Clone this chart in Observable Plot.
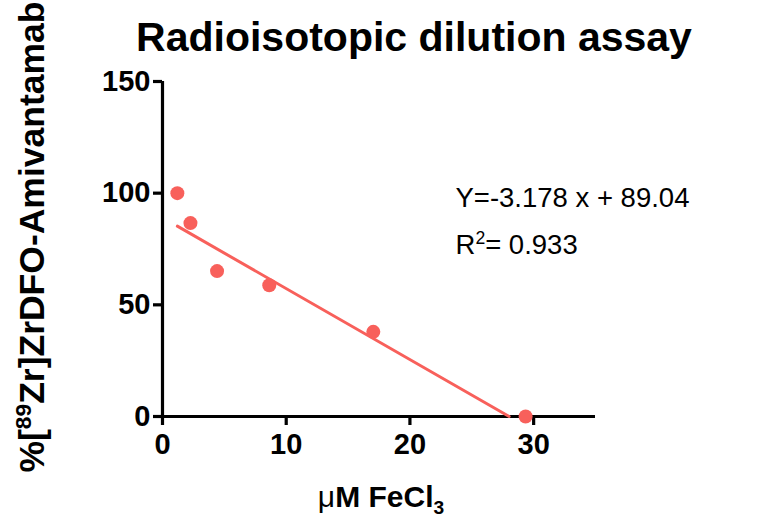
<!DOCTYPE html>
<html>
<head>
<meta charset="utf-8">
<script src="https://cdn.jsdelivr.net/npm/d3@7"></script>
<script src="https://cdn.jsdelivr.net/npm/@observablehq/plot@0.6"></script>
<style>
  html, body { margin: 0; padding: 0; background: #fff; }
  #chart svg { display: block; }
</style>
</head>
<body>
<div id="chart"></div>
<script>
// ---- data ----
const concentration = [1.2, 2.26, 4.41, 8.63, 17.04, 29.35];   // µM FeCl3
const percentBound  = [100, 86.6, 65.1, 58.8, 37.9, 0];          // %[89Zr]ZrDFO-Amivantamab
const fitSlope = -3.178;
const fitIntercept = 89.04;
const fitRangeX = [1.2, 28.02];
const xTicks = [0, 10, 20, 30];
const yTicks = [0, 50, 100, 150];
const titleText = "Radioisotopic dilution assay";
const xLabel = "μM FeCl_{3}";
const yLabel = "%[^{89}Zr]ZrDFO-Amivantamab";
const eqLines = ["Y=-3.178 x + 89.04", "R^{2}= 0.933"];

const points = concentration.map((c, i) => ({x: c, y: percentBound[i]}));
const fit = fitRangeX.map(x => ({x, y: fitSlope * x + fitIntercept}));

const red = "#f8605b";
const font = "'Liberation Sans', Arial, sans-serif";

const chart = Plot.plot({
  width: 773,
  height: 530,
  marginLeft: 162,
  marginRight: 178,
  marginTop: 81,
  marginBottom: 114,
  style: {fontFamily: font, background: "#fff", color: "#000"},
  x: {domain: [0, 35]},
  y: {domain: [0, 150]},
  marks: [
    // axis lines
    Plot.ruleY([0], {x1: 0, x2: 35, stroke: "#000", strokeWidth: 3.2}),
    Plot.ruleX([0], {y1: 0, y2: 150, stroke: "#000", strokeWidth: 3.2}),
    // ticks
    Plot.axisX({ticks: xTicks, tickSize: 9, strokeWidth: 3.2, stroke: "#000", tickFormat: () => "", label: null}),
    Plot.axisY({ticks: yTicks, tickSize: 9, strokeWidth: 3.2, stroke: "#000", tickFormat: () => "", label: null}),
    // tick labels
    Plot.text(xTicks, {x: d => d, y: 0, text: d => String(d), dy: 28, fontSize: 29, fontWeight: "bold", fill: "#000", lineAnchor: "middle"}),
    Plot.text(yTicks, {x: 0, y: d => d, text: d => String(d), dx: -12, textAnchor: "end", fontSize: 29, fontWeight: "bold", fill: "#000", lineAnchor: "middle"}),
    // fit line
    Plot.line(fit, {x: "x", y: "y", stroke: red, strokeWidth: 3}),
    // points
    Plot.dot(points, {x: "x", y: "y", r: 7, fill: red, stroke: "none"}),
    // equation
    Plot.text([eqLines[0]], {frameAnchor: "top-left", dx: 293, dy: 125, text: d => d, textAnchor: "start", lineAnchor: "bottom", fontSize: 27.5, fill: "#000"}),
    Plot.text([eqLines[1]], {frameAnchor: "top-left", dx: 293, dy: 172, text: d => d, textAnchor: "start", lineAnchor: "bottom", fontSize: 27.5, fill: "#000"}),
    // title
    Plot.text([titleText], {frameAnchor: "top", dx: 35, dy: -44, text: d => d, fontSize: 41, fontWeight: "bold", fill: "#000", lineAnchor: "middle"}),
    // x label
    Plot.text([xLabel], {frameAnchor: "bottom", dx: 2, dy: 81, text: d => d, fontSize: 30, fontWeight: "bold", fill: "#000", lineAnchor: "middle"}),
    // y label
    Plot.text([yLabel], {frameAnchor: "left", dx: -130, dy: -12, rotate: -90, text: d => d, textAnchor: "middle", fontSize: 35.5, fontWeight: "bold", fill: "#000", lineAnchor: "middle"})
  ]
});

document.getElementById("chart").appendChild(chart);

// rich text: ^{..} superscript, _{..} subscript, μ in normal weight
d3.select(chart).selectAll("text").each(function() {
  const t = this.textContent;
  if (!/[\^_]\{|μ/.test(t)) return;
  const el = d3.select(this);
  const fs = parseFloat(getComputedStyle(this).fontSize) || 20;
  el.text(null);
  const re = /(\^\{[^}]*\}|_\{[^}]*\}|μ)/g;
  const parts = t.split(re).filter(s => s.length);
  let shift = 0;
  for (const p of parts) {
    let target = 0, str = p, small = false, normal = false;
    if (p.startsWith("^{")) { target = -0.36 * fs; str = p.slice(2, -1); small = true; }
    else if (p.startsWith("_{")) { target = 0.22 * fs; str = p.slice(2, -1); small = true; }
    else if (p === "μ") { normal = true; }
    const ts = el.append("tspan").text(str);
    if (target - shift !== 0) ts.attr("dy", target - shift);
    shift = target;
    if (small) ts.attr("font-size", fs * 0.64);
    if (normal) ts.attr("font-weight", "normal");
  }
});
</script>
</body>
</html>
